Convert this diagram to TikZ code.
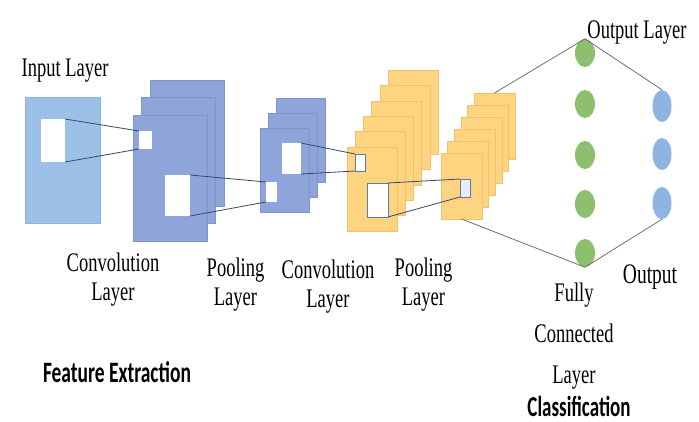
\documentclass[tikz,border=0pt]{standalone}
\usepackage{fontspec}
\usepackage{graphicx}
\setmainfont{Liberation Serif}
\newfontfamily\carlito{Carlito}
\usetikzlibrary{shapes.geometric}
\definecolor{inblue}{RGB}{157,192,233}
\definecolor{inedge}{RGB}{140,178,225}
\definecolor{cblue}{RGB}{143,165,217}
\definecolor{cedge}{RGB}{125,148,205}
\definecolor{orng}{RGB}{255,212,128}
\definecolor{oedge}{RGB}{240,192,110}
\definecolor{grn}{RGB}{140,192,110}
\definecolor{bcirc}{RGB}{142,180,227}
\definecolor{winline}{RGB}{52,73,107}
\definecolor{fcline}{RGB}{112,112,112}
\definecolor{winedge}{RGB}{90,125,160}
\newcommand\tl[1]{\scalebox{1}[1.45]{#1}}
\newcommand\tb[1]{\scalebox{1}[1.52]{#1}}
\begin{document}
\begin{tikzpicture}[x=1pt,y=-1pt,
  rbox/.style={anchor=north west,inner sep=0pt,outer sep=0pt},
  inputbox/.style={rbox,fill=inblue,draw=inedge,line width=0.5pt},
  convbox/.style={rbox,fill=cblue,draw=cedge,line width=0.5pt,minimum width=74pt,minimum height=126pt},
  poolbox/.style={rbox,fill=cblue,draw=cedge,line width=0.5pt,minimum width=49pt,minimum height=84pt},
  obox/.style={rbox,fill=orng,draw=oedge,line width=0.5pt,minimum width=50pt,minimum height=84pt},
  opbox/.style={rbox,fill=orng,draw=oedge,line width=0.5pt,minimum width=41pt,minimum height=66pt},
  win/.style={rbox,fill=white},
  win2/.style={rbox,fill=white,draw=winedge,line width=0.8pt},
  wline/.style={draw=winline,line width=0.8pt},
  fline/.style={draw=fcline,line width=0.8pt},
  gnode/.style={ellipse,fill=grn,inner sep=0pt,minimum width=20pt,minimum height=28pt},
  bnode/.style={ellipse,fill=bcirc,inner sep=0pt,minimum width=19pt,minimum height=32pt},
  lbl/.style={anchor=north,inner sep=0pt,align=center,font=\fontsize{18.5}{29}\selectfont},
  blbl/.style={anchor=north,inner sep=0pt,font=\carlito\bfseries\fontsize{19.5}{24}\selectfont}]
\useasboundingbox (0,0) rectangle (699,421);
\fill[white] (0,0) rectangle (699,421);

% input layer
\node[inputbox,minimum width=75pt,minimum height=126pt] (in) at (25,97) {};
% conv layer 1
\node[convbox] (c1-0) at (150,80) {};
\node[convbox] (c1-1) at (141,97) {};
\node[convbox] (c1-2) at (133,115) {};
% pooling layer 1
\node[poolbox] (p1-0) at (276,98) {};
\node[poolbox] (p1-1) at (268,113) {};
\node[poolbox] (p1-2) at (260,128) {};
% conv layer 2
\foreach \i in {0,...,5}{
  \node[obox] (c2-\i) at ({388-8.2*\i},{70+15.4*\i}) {};
}
% pooling layer 2
\foreach \i in {0,...,5}{
  \node[opbox] (p2-\i) at ({474-6.6*\i},{93+12*\i}) {};
}

% windows
\node[win,minimum width=24pt,minimum height=43pt] (inw) at (41,119) {};
\node[win,minimum width=13pt,minimum height=18pt] (c1s) at (139,131) {};
\node[win,minimum width=25pt,minimum height=41pt] (c1b) at (165,175) {};
\node[win,minimum width=11pt,minimum height=20pt] (p1s) at (266,182) {};
\node[win,minimum width=19pt,minimum height=31pt] (p1b) at (282,143) {};
\node[win2,minimum width=10pt,minimum height=17pt] (c2s) at (355,154) {};
\node[win2,minimum width=21pt,minimum height=34pt] (c2b) at (367,183) {};
\node[win2,fill=blue!8,minimum width=10pt,minimum height=18pt] (p2s) at (460,179) {};

% fully connected & output
\foreach \j/\y in {1/53,2/104,3/155,4/204,5/253}{
  \node[gnode] (g\j) at (585,\y) {};
}
\foreach \j/\y in {1/106,2/154,3/203}{
  \node[bnode] (b\j) at (662,\y) {};
}

% connectors
\draw[wline] (inw.north east) -- (c1s.north west);
\draw[wline] (inw.south east) -- (c1s.south west);
\draw[wline] (c1b.north east) -- (p1s.north west);
\draw[wline] (c1b.south east) -- (p1s.south west);
\draw[wline] (p1b.north east) -- (c2s.north west);
\draw[wline] (p1b.south east) -- (c2s.south west);
\draw[wline] (c2b.north east) -- (p2s.north west);
\draw[wline] (c2b.south east) -- (p2s.south west);
\draw[fline] (p2-0.north) -- (g1.north);
\draw[fline] (p2-5.south) -- (g5.south);
\draw[fline] (g1.north) -- (b1.north);
\draw[fline] (g5.south) -- (b3.south);

% labels
\node[lbl] (tin) at (65,59) {\tl{Input Layer}};
\node[lbl] (tc1) at (113,253) {\tl{Convolution}\\\tl{Layer}};
\node[lbl] (tp1) at (235.5,258) {\tl{Pooling}\\\tl{Layer}};
\node[lbl] (tc2) at (328,260) {\tl{Convolution}\\\tl{Layer}};
\node[lbl] (tp2) at (423.5,258) {\tl{Pooling}\\\tl{Layer}};
\node[lbl] (tout) at (637,21) {\tl{Output Layer}};
\node[lbl,font=\fontsize{19.5}{29}\selectfont] (to) at (650,265) {\tl{Output}};
\node[lbl,font=\fontsize{18.5}{41}\selectfont] (tfc) at (574,283) {\tl{Fully}\\\tl{Connected}\\\tl{Layer}};
\node[blbl] (tfe) at (117,361) {\tb{Feature Extraction}};
\node[blbl,font=\carlito\bfseries\fontsize{19}{24}\selectfont] (tcl) at (579,396) {\tb{Classification}};
\end{tikzpicture}
\end{document}
